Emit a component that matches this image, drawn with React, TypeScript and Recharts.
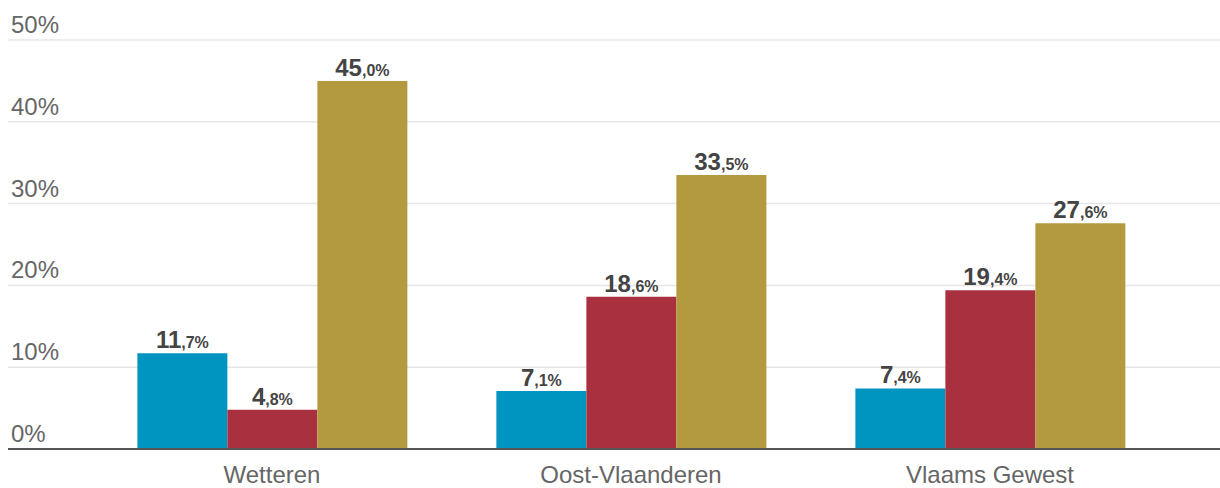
import React from "react";
import { BarChart, Bar, XAxis, YAxis, CartesianGrid, LabelList } from "recharts";

const categories = ["Wetteren", "Oost-Vlaanderen", "Vlaams Gewest"];
const seriesA = [11.7, 7.1, 7.4];
const seriesB = [4.8, 18.6, 19.4];
const seriesC = [45.0, 33.5, 27.6];
const yTicks = [0, 10, 20, 30, 40, 50];

const data = categories.map((name, i) => ({
  name,
  a: seriesA[i],
  b: seriesB[i],
  c: seriesC[i],
}));

const FONT = "'Liberation Sans', Arial, sans-serif";

const YTick = (props: any) => {
  const { y, payload } = props;
  return (
    <text x={11} y={y - 7} textAnchor="start" fill="#666" fontSize={24} fontFamily={FONT}>
      {payload.value}%
    </text>
  );
};

const XTick = (props: any) => {
  const { x, y, payload } = props;
  return (
    <text x={x} y={y} dy={34} textAnchor="middle" fill="#666" fontSize={24} fontFamily={FONT}>
      {payload.value}
    </text>
  );
};

const ValueLabel = (props: any) => {
  const { x, y, width, value } = props;
  const s = Number(value).toFixed(1).split(".");
  return (
    <text
      x={x + width / 2}
      y={y - 5}
      textAnchor="middle"
      fill="#444"
      fontFamily={FONT}
      fontWeight="bold"
    >
      <tspan fontSize={24}>{s[0]}</tspan>
      <tspan fontSize={16}>{"," + s[1] + "%"}</tspan>
    </text>
  );
};

export default function App() {
  return (
    <div style={{ width: 1220, height: 488 }}>
      <style>{"html,body{margin:0;padding:0;overflow:hidden;}"}</style>
      <BarChart
        width={1220}
        height={488}
        data={data}
        margin={{ top: 40, right: 0, bottom: 0, left: 8 }}
        barCategoryGap="12.5%"
        barGap={0}
      >
        <CartesianGrid horizontal vertical={false} stroke="#e6e6e6" strokeWidth={1.5} />
        <XAxis
          dataKey="name"
          height={39}
          padding={{ left: 84.5, right: 50.5 }}
          axisLine={{ stroke: "#555", strokeWidth: 2 }}
          tickLine={false}
          tickSize={0}
          tickMargin={0}
          tick={<XTick />}
          interval={0}
        />
        <YAxis
          width={1}
          mirror
          domain={[0, 50]}
          ticks={yTicks}
          axisLine={false}
          tickLine={false}
          tick={<YTick />}
          interval={0}
        />
        <Bar dataKey="a" fill="#0095c0" isAnimationActive={false}>
          <LabelList dataKey="a" content={<ValueLabel />} />
        </Bar>
        <Bar dataKey="b" fill="#a8303f" isAnimationActive={false}>
          <LabelList dataKey="b" content={<ValueLabel />} />
        </Bar>
        <Bar dataKey="c" fill="#b39a3e" isAnimationActive={false}>
          <LabelList dataKey="c" content={<ValueLabel />} />
        </Bar>
      </BarChart>
    </div>
  );
}
